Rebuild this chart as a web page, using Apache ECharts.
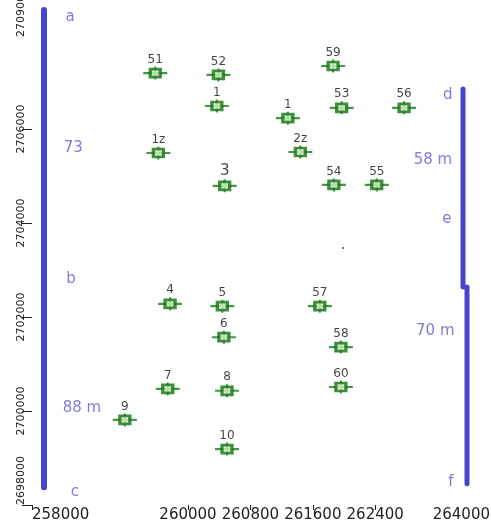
<!DOCTYPE html>
<html>
<head>
<meta charset="utf-8">
<script src="https://cdn.jsdelivr.net/npm/echarts@6/dist/echarts.min.js"></script>
<style>html,body{margin:0;padding:0;background:#fff;}#c{width:491px;height:524px;}</style>
</head>
<body>
<div id="c"></div>
<script>
// Survey points: names, eastings, northings
var pointNames = ['51','52','59','1','1','53','56','1z','2z','3','54','55','4','5','57','6','58','7','8','60','9','10'];
var pointX = [259580,260390,261860,260370,261280,261970,262770,259620,261440,260470,261870,262420,259770,260440,261690,260460,261960,259740,260500,261960,259190,260500];
var pointY = [2707190,2707150,2707340,2706490,2706230,2706450,2706450,2705490,2705510,2704790,2704810,2704810,2702280,2702230,2702230,2701570,2701360,2700470,2700430,2700510,2699810,2699190];
// stray dot
var dotX = [261990];
var dotY = [2703470];
// Profile lines (blue bars)
var leftLine = [[258154, 2708530], [258154, 2698380]];
var rightUpper = [[263526, 2706850], [263526, 2702640]];
var rightLower = [[263577, 2702640], [263577, 2698450]];
// Annotation texts and their positions
var noteText = ['a','73','b','88 m','c','d','58 m','e','70 m','f'];
var noteX = [258490,258530,258500,258640,258550,263330,263140,263320,263170,263370];
var noteY = [2708380,2705600,2702810,2700060,2698280,2706720,2705340,2704090,2701700,2698490];
// Axis tick labels
var xTicks = [258000,260000,260800,261600,262400,264000];
var yTicks = [2698000,2700000,2702000,2704000,2706000,2709000];

var pts = pointNames.map(function(n,i){return {name:n, value:[pointX[i], pointY[i]]};});
var notes = noteText.map(function(n,i){return {name:n, value:[noteX[i], noteY[i]]};});
var dots = dotX.map(function(x,i){return [x, dotY[i]];});
var plain = function(v){return String(Math.round(v));};
var xLabel = function(v){
  var s = String(Math.round(v));
  return v === xTicks[xTicks.length-1] ? '{r|' + s + '}' : s;
};

var chart = echarts.init(document.getElementById('c'), null, {renderer:'canvas'});
var blue = '#4646cc';
var noteColor = '#5c5cd0';
chart.setOption({
  backgroundColor:'#fff',
  animation:false,
  grid:{left:32, width:468, top:-12, height:517, containLabel:false, outerBoundsMode:'none'},
  xAxis:{
    type:'value', min:258000, max:264000,
    splitLine:{show:false}, axisLine:{show:false},
    axisTick:{show:true, length:5, lineStyle:{color:'#222'}, customValues:xTicks},
    axisLabel:{customValues:xTicks, formatter:xLabel, fontFamily:'DejaVu Sans', fontSize:15, color:'#222', margin:3,
      alignMinLabel:'left', alignMaxLabel:'right', showMinLabel:true, showMaxLabel:true, hideOverlap:false,
      rich:{r:{fontFamily:'DejaVu Sans', fontSize:15, color:'#222', padding:[0,10,0,0]}}}
  },
  yAxis:{
    type:'value', min:2698000, max:2709000,
    splitLine:{show:false}, axisLine:{show:false},
    axisTick:{show:true, length:10, lineStyle:{color:'#222'}, customValues:yTicks},
    axisLabel:{customValues:yTicks, formatter:plain, rotate:90, fontFamily:'DejaVu Sans', fontSize:11, color:'#222', margin:5,
      alignMinLabel:'left', alignMaxLabel:'right', showMinLabel:true, showMaxLabel:true, hideOverlap:false}
  },
  series:[
    {type:'line', data:leftLine, symbol:'none', lineStyle:{color:blue, width:6, cap:'round'}, z:1},
    {type:'line', data:rightUpper, symbol:'none', lineStyle:{color:blue, width:5, cap:'round'}, z:1},
    {type:'line', data:rightLower, symbol:'none', lineStyle:{color:blue, width:5, cap:'round'}, z:1},
    {type:'scatter', data:notes, symbolSize:0, z:3,
      label:{show:true, position:'inside', formatter:'{b}', color:noteColor, fontFamily:'DejaVu Sans', fontSize:15}},
    {type:'scatter', data:pts, symbol:'path://M0,5H11V0H13V5H24V7H13V12H11V7H0Z', symbolSize:[24,13],
      itemStyle:{color:'#157f15'}, z:4,
      label:{show:true, position:'top', distance:1, formatter:'{b}', color:'#111', fontFamily:'DejaVu Sans',
        fontSize:12}},
    {type:'scatter', data:pts.map(function(p){return p.value;}), symbol:'rect', symbolSize:[10,8],
      itemStyle:{color:'#d2ecc4', borderColor:'#137313', borderWidth:3}, z:5},
    {type:'scatter', data:dots, symbol:'circle', symbolSize:2, itemStyle:{color:'#222'}, z:5}
  ]
});
// make label "3" larger as in the reference
chart.setOption({series:[{},{},{},{},{data:pts.map(function(p){
  return p.name==='3' ? {name:p.name, value:p.value, label:{fontSize:15}} : p;})}]});
</script>
</body>
</html>
